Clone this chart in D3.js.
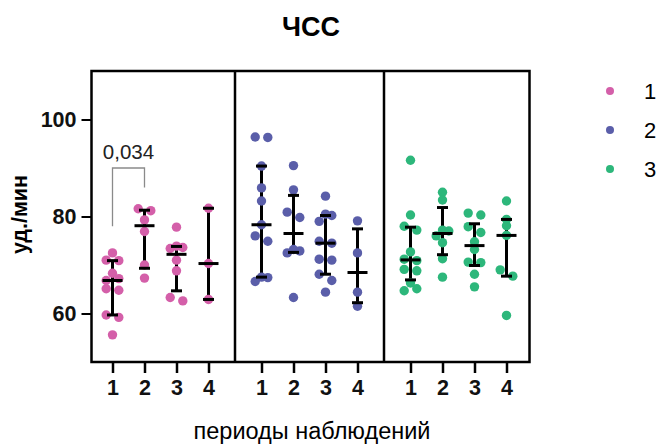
<!DOCTYPE html>
<html>
<head>
<meta charset="utf-8">
<script src="https://cdn.jsdelivr.net/npm/d3@7"></script>
<style>
  body { margin: 0; background: #fff; }
  svg { font-family: Arial, "Liberation Sans", sans-serif; }
</style>
</head>
<body>
<svg width="659" height="446"></svg>
<script>
// группы и периоды
const groups = ["1", "2", "3"];
const periods = ["1", "2", "3", "4"];
const groupColors = ["#d45fa9", "#5a5ea9", "#2db77b"];

// ЧСС по периодам (уд./мин)
const group1 = [
  [72.5, 71.0, 70.9, 68.3, 67.2, 66.8, 65.1, 64.8, 59.7, 59.2, 55.6],
  [81.6, 81.2, 79.3, 76.9, 70.0, 67.3],
  [77.8, 73.9, 73.6, 73.4, 71.0, 68.8, 63.3, 62.6],
  [81.7, 70.3, 62.9]
];
const group2 = [
  [96.4, 96.3, 90.4, 85.9, 83.2, 78.3, 76.0, 74.9, 67.5, 67.4, 66.6],
  [90.5, 85.5, 80.9, 79.8, 73.2, 72.9, 72.5, 63.3],
  [84.2, 80.5, 80.2, 79.0, 74.9, 74.5, 71.2, 71.0, 68.1, 66.8, 64.4],
  [79.1, 72.5, 64.4, 61.5]
];
const group3 = [
  [91.6, 80.3, 78.0, 77.2, 72.7, 71.2, 70.9, 69.1, 68.8, 66.3, 65.1, 64.7],
  [85.0, 83.4, 77.2, 77.0, 76.0, 74.6, 71.3, 67.5],
  [80.7, 80.3, 77.9, 76.7, 74.8, 73.2, 70.6, 70.5, 68.1, 65.5],
  [83.2, 79.4, 78.1, 76.1, 69.0, 67.7, 59.6]
];
const allGroups = [group1, group2, group3];

const yTicks = [60, 80, 100];
const pValue = "0,034";

// размеры
const svg = d3.select("svg");
const plotTop = 71, plotBottom = 362;
const frameLeft = 91.5, frameRight = 529.5;
const DOT_R = 4.7;
const STEP = 6.3; // сдвиг точек по горизонтали

const y = d3.scaleLinear().domain([50, 110]).range([plotBottom, plotTop]);
const xGroup = d3.scaleBand().domain(groups).range([86, 533]);
const xInner = d3.scalePoint().domain(periods).range([-48, 48]);
const cx = (g, p) => xGroup(g) + xGroup.bandwidth() / 2 + xInner(p);

// квартили как в Prism: позиция p*(n+1)
function quart(sorted, p) {
  const n = sorted.length;
  const pos = p * (n + 1);
  if (pos <= 1) return sorted[0];
  if (pos >= n) return sorted[n - 1];
  const lo = Math.floor(pos);
  return sorted[lo - 1] + (pos - lo) * (sorted[lo] - sorted[lo - 1]);
}

// раскладка точек по рядам (близкие значения разводим в стороны)
function swarm(values) {
  const sorted = values.slice().sort((a, b) => b - a);
  const rows = [];
  sorted.forEach((v, i) => {
    if (i > 0 && sorted[i - 1] - v < 1.3) rows[rows.length - 1].push(v);
    else rows.push([v]);
  });
  const out = [];
  rows.forEach(row => {
    const n = row.length;
    let slots;
    if (n % 2 === 1) slots = [0, 1, -1, 2, -2, 3, -3];
    else slots = [-1, 1, -2, 2, -3, 3];
    row.forEach((v, i) => out.push({ v, dx: slots[i] * STEP }));
  });
  return out;
}

// рамки панелей
svg.append("rect")
  .attr("x", frameLeft).attr("y", plotTop)
  .attr("width", frameRight - frameLeft).attr("height", plotBottom - plotTop)
  .attr("fill", "none").attr("stroke", "#000").attr("stroke-width", 2.5);
groups.slice(1).forEach(g => {
  svg.append("line")
    .attr("x1", xGroup(g)).attr("x2", xGroup(g))
    .attr("y1", plotTop).attr("y2", plotBottom)
    .attr("stroke", "#000").attr("stroke-width", 2.5);
});

// ось Y
const yAxis = svg.append("g")
  .attr("transform", `translate(${frameLeft},0)`)
  .call(d3.axisLeft(y).tickValues(yTicks).tickSize(10).tickPadding(5));
yAxis.select(".domain").remove();
yAxis.selectAll("line").attr("stroke-width", 2);
yAxis.selectAll("text")
  .attr("font-size", 21.5).attr("font-weight", "bold").attr("fill", "#111")
  .attr("font-family", "Arial, 'Liberation Sans', sans-serif");

// оси X для каждой группы
groups.forEach(g => {
  const ax = svg.append("g")
    .attr("transform", `translate(${xGroup(g) + xGroup.bandwidth() / 2},${plotBottom})`)
    .call(d3.axisBottom(xInner).tickSize(11).tickPadding(7));
  ax.select(".domain").remove();
  ax.selectAll("line").attr("stroke-width", 2.5);
  ax.selectAll("text")
    .attr("font-size", 21.5).attr("font-weight", "bold").attr("fill", "#111")
    .attr("font-family", "Arial, 'Liberation Sans', sans-serif");
});

// данные: усы, точки, медианы
allGroups.forEach((grp, gi) => {
  const g = groups[gi];
  grp.forEach((vals, pi) => {
    const p = periods[pi];
    const x = cx(g, p);
    const asc = vals.slice().sort((a, b) => a - b);
    const med = d3.median(asc);
    const q1 = quart(asc, 0.25), q3 = quart(asc, 0.75);

    svg.append("line")
      .attr("x1", x).attr("x2", x)
      .attr("y1", y(q1)).attr("y2", y(q3))
      .attr("stroke", "#000").attr("stroke-width", 3);

    svg.selectAll(null)
      .data(swarm(vals))
      .enter()
      .append("circle")
      .attr("cx", d => x + d.dx)
      .attr("cy", d => y(d.v))
      .attr("r", DOT_R)
      .attr("fill", groupColors[gi]);

    [q1, q3].forEach(q => {
      svg.append("line")
        .attr("x1", x - 5.5).attr("x2", x + 5.5)
        .attr("y1", y(q)).attr("y2", y(q))
        .attr("stroke", "#000").attr("stroke-width", 3);
    });
    svg.append("line")
      .attr("x1", x - 10).attr("x2", x + 10)
      .attr("y1", y(med)).attr("y2", y(med))
      .attr("stroke", "#000").attr("stroke-width", 3);
  });
});

// скобка с p-значением (группа 1, периоды 1 и 2)
const bx1 = cx("1", "1"), bx2 = cx("1", "2");
svg.append("path")
  .attr("d", `M${bx1},${y(78)}V${y(90)}H${bx2}V${y(86)}`)
  .attr("fill", "none").attr("stroke", "#8a8a8a").attr("stroke-width", 1.3);
svg.append("text")
  .attr("x", (bx1 + bx2) / 2).attr("y", y(90) - 9)
  .attr("text-anchor", "middle").attr("font-size", 20.5).attr("fill", "#222")
  .text(pValue);

// заголовок и подписи осей
svg.append("text")
  .attr("x", 311).attr("y", 36)
  .attr("text-anchor", "middle").attr("font-size", 27).attr("font-weight", "bold")
  .text("ЧСС");

svg.append("text")
  .attr("transform", `translate(27,${(plotTop + plotBottom) / 2 - 2}) rotate(-90)`)
  .attr("text-anchor", "middle").attr("font-size", 21.5).attr("font-weight", "bold")
  .text("уд./мин");

svg.append("text")
  .attr("x", 312).attr("y", 439)
  .attr("text-anchor", "middle").attr("font-size", 23.5)
  .text("периоды наблюдений");

// легенда
const legend = svg.selectAll(".legend")
  .data(groups)
  .enter()
  .append("g")
  .attr("class", "legend")
  .attr("transform", (d, i) => `translate(610,${91 + i * 39})`);
legend.append("circle").attr("r", 4).attr("fill", (d, i) => groupColors[i]);
legend.append("text")
  .attr("x", 34).attr("y", 8)
  .attr("font-size", 22)
  .text(d => d);
</script>
</body>
</html>
